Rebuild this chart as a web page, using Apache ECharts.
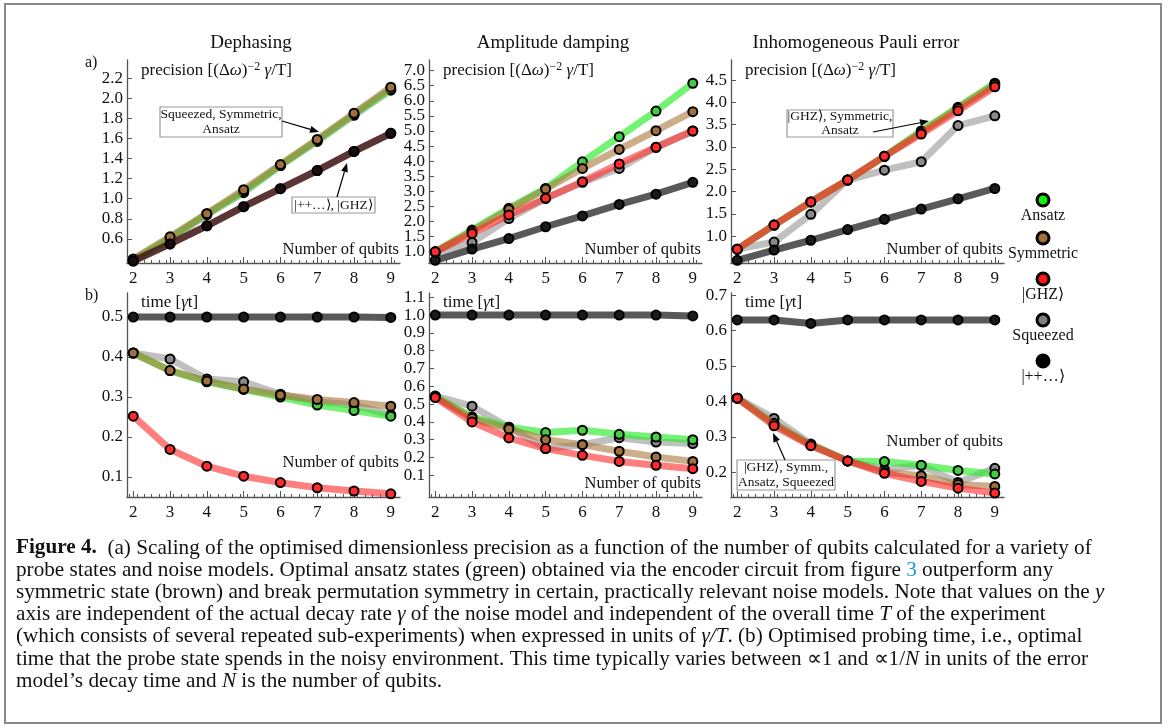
<!DOCTYPE html>
<html>
<head>
<meta charset="utf-8">
<script src="https://cdn.jsdelivr.net/npm/echarts@6/dist/echarts.min.js"></script>
<style>
  html, body { margin: 0; padding: 0; background: #fff; }
  #chart { width: 1168px; height: 728px; }
</style>
</head>
<body>
<div id="chart"></div>
<script>
const SERIF = "'Liberation Serif', 'Times New Roman', serif"

// number of qubits on every x axis
const qubits = [2, 3, 4, 5, 6, 7, 8, 9]

// (a) precision [(Δω)^-2 γ/T]
const dephPrecAnsatz = [0.39, 0.61, 0.85, 1.07, 1.33, 1.58, 1.84, 2.09]
const dephPrecSymmetric = [0.40, 0.62, 0.85, 1.09, 1.34, 1.59, 1.85, 2.11]
const dephPrecGHZ = [0.38, 0.55, 0.73, 0.92, 1.10, 1.28, 1.47, 1.65]
const dephPrecSqueezed = [0.39, 0.60, 0.84, 1.06, 1.33, 1.57, 1.83, 2.08]
const dephPrecProduct = [0.38, 0.55, 0.73, 0.92, 1.10, 1.28, 1.47, 1.65]

const ampPrecAnsatz = [1.00, 1.72, 2.44, 3.10, 3.98, 4.81, 5.66, 6.58]
const ampPrecSymmetric = [1.00, 1.68, 2.40, 3.08, 3.76, 4.39, 5.01, 5.64]
const ampPrecGHZ = [1.00, 1.61, 2.22, 2.77, 3.32, 3.91, 4.46, 5.00]
const ampPrecSqueezed = [0.98, 1.31, 2.10, 2.77, 3.30, 3.76, 4.46, 5.00]
const ampPrecProduct = [0.72, 1.09, 1.44, 1.83, 2.19, 2.57, 2.91, 3.30]

const pauliPrecAnsatz = [0.71, 1.25, 1.77, 2.26, 2.79, 3.36, 3.89, 4.43]
const pauliPrecSymmetric = [0.71, 1.25, 1.77, 2.26, 2.79, 3.33, 3.87, 4.40]
const pauliPrecGHZ = [0.71, 1.25, 1.77, 2.26, 2.79, 3.29, 3.81, 4.35]
const pauliPrecSqueezed = [0.71, 0.87, 1.49, 2.26, 2.48, 2.67, 3.48, 3.70]
const pauliPrecProduct = [0.46, 0.69, 0.91, 1.15, 1.38, 1.61, 1.84, 2.07]

// (b) time [γt]
const dephTimeAnsatz = [0.41, 0.366, 0.338, 0.319, 0.300, 0.280, 0.266, 0.252]
const dephTimeSymmetric = [0.41, 0.366, 0.340, 0.320, 0.305, 0.294, 0.286, 0.277]
const dephTimeGHZ = [0.252, 0.169, 0.127, 0.102, 0.086, 0.073, 0.065, 0.058]
const dephTimeSqueezed = [0.41, 0.395, 0.345, 0.338, 0.307, 0.288, 0.280, 0.255]
const dephTimeProduct = [0.50, 0.50, 0.50, 0.50, 0.50, 0.50, 0.50, 0.499]

const ampTimeAnsatz = [0.544, 0.428, 0.370, 0.340, 0.353, 0.330, 0.315, 0.300]
const ampTimeSymmetric = [0.540, 0.420, 0.360, 0.300, 0.272, 0.235, 0.203, 0.178]
const ampTimeGHZ = [0.537, 0.400, 0.310, 0.250, 0.212, 0.178, 0.156, 0.137]
const ampTimeSqueezed = [0.545, 0.488, 0.370, 0.250, 0.272, 0.311, 0.287, 0.278]
const ampTimeProduct = [1.00, 1.00, 1.00, 1.00, 1.00, 1.00, 1.00, 0.995]

const pauliTimeAnsatz = [0.409, 0.335, 0.277, 0.232, 0.230, 0.220, 0.205, 0.195]
const pauliTimeSymmetric = [0.409, 0.338, 0.277, 0.232, 0.200, 0.190, 0.165, 0.160]
const pauliTimeGHZ = [0.409, 0.331, 0.275, 0.232, 0.197, 0.174, 0.155, 0.141]
const pauliTimeSqueezed = [0.409, 0.352, 0.280, 0.232, 0.208, 0.219, 0.171, 0.211]
const pauliTimeProduct = [0.63, 0.63, 0.62, 0.63, 0.63, 0.63, 0.63, 0.63]

// y tick labels
const yTicksDephPrec = [0.6, 0.8, 1.0, 1.2, 1.4, 1.6, 1.8, 2.0, 2.2]
const yTicksAmpPrec = [1.0, 1.5, 2.0, 2.5, 3.0, 3.5, 4.0, 4.5, 5.0, 5.5, 6.0, 6.5, 7.0]
const yTicksPauliPrec = [1.0, 1.5, 2.0, 2.5, 3.0, 3.5, 4.0, 4.5]
const yTicksDephTime = [0.1, 0.2, 0.3, 0.4, 0.5]
const yTicksAmpTime = [0.1, 0.2, 0.3, 0.4, 0.5, 0.6, 0.7, 0.8, 0.9, 1.0, 1.1]
const yTicksPauliTime = [0.2, 0.3, 0.4, 0.5, 0.6, 0.7]

const panelTitles = ['Dephasing', 'Amplitude damping', 'Inhomogeneous Pauli error']
// drawing order, bottom to top
const stateNames = ['Squeezed', 'Ansatz', 'Symmetric', '|GHZ⟩', '|++…⟩']

const states = [
  { line: 'rgba(150,150,150,0.6)', dot: '#8a8a8a' },
  { line: 'rgba(40,235,40,0.65)', dot: '#44cc44' },
  { line: 'rgba(170,120,60,0.6)', dot: '#a0703e' },
  { line: 'rgba(255,40,40,0.6)', dot: '#ff2a2a' },
  { line: 'rgba(25,25,25,0.72)', dot: 'rgba(10,10,10,0.8)' }
]

const panels = [
  { left: 127, top: 60, height: 203, min: 0.36, max: 2.38, ticks: yTicksDephPrec,
    data: [dephPrecSqueezed, dephPrecAnsatz, dephPrecSymmetric, dephPrecGHZ, dephPrecProduct] },
  { left: 429, top: 60, height: 203, min: 0.63, max: 7.35, ticks: yTicksAmpPrec,
    data: [ampPrecSqueezed, ampPrecAnsatz, ampPrecSymmetric, ampPrecGHZ, ampPrecProduct] },
  { left: 731, top: 60, height: 203, min: 0.40, max: 4.95, ticks: yTicksPauliPrec,
    data: [pauliPrecSqueezed, pauliPrecAnsatz, pauliPrecSymmetric, pauliPrecGHZ, pauliPrecProduct] },
  { left: 127, top: 293, height: 204, min: 0.05, max: 0.56, ticks: yTicksDephTime,
    data: [dephTimeSqueezed, dephTimeAnsatz, dephTimeSymmetric, dephTimeGHZ, dephTimeProduct] },
  { left: 429, top: 293, height: 204, min: -0.022, max: 1.124, ticks: yTicksAmpTime,
    data: [ampTimeSqueezed, ampTimeAnsatz, ampTimeSymmetric, ampTimeGHZ, ampTimeProduct] },
  { left: 731, top: 293, height: 204, min: 0.13, max: 0.706, ticks: yTicksPauliTime,
    data: [pauliTimeSqueezed, pauliTimeAnsatz, pauliTimeSymmetric, pauliTimeGHZ, pauliTimeProduct] }
]

const X_MIN = 1.83
const X_MAX = 9.25
const minorTicks = []
for (let v = 1.9; v < X_MAX; v += 0.2) minorTicks.push(Math.round(v * 10) / 10)

const axisColor = '#555'

const grids = panels.map(p => ({ left: p.left, top: p.top, width: 273, height: p.height }))

const xAxes = panels.map((p, i) => ({
  gridIndex: i, type: 'value', min: X_MIN, max: X_MAX, position: 'bottom',
  axisLine: { show: true, onZero: false, lineStyle: { color: axisColor, width: 1.3 } },
  axisTick: { show: true, inside: true, length: 6, customValues: qubits, lineStyle: { color: axisColor } },
  axisLabel: { customValues: qubits, fontFamily: SERIF, fontSize: 17, color: '#111', margin: 7 },
  splitLine: { show: false }
})).concat(panels.map((p, i) => ({
  gridIndex: i, type: 'value', min: X_MIN, max: X_MAX, position: 'bottom',
  axisLine: { show: false, onZero: false },
  axisTick: { show: true, inside: true, length: 3, customValues: minorTicks, lineStyle: { color: axisColor } },
  axisLabel: { show: false },
  splitLine: { show: false }
})))

// labels are split over two overlapping axes so dense ones are never hidden
const yLabel = vals => ({ customValues: vals, fontFamily: SERIF, fontSize: 17, color: '#111', margin: 4,
  showMinLabel: true, showMaxLabel: true, formatter: v => v.toFixed(1) })

const yAxes = panels.map((p, i) => ({
  gridIndex: i, type: 'value', min: p.min, max: p.max, position: 'left',
  axisLine: { show: true, onZero: false, lineStyle: { color: axisColor, width: 1.3 } },
  axisTick: { show: true, inside: true, length: 5, customValues: p.ticks, lineStyle: { color: axisColor } },
  axisLabel: yLabel(p.ticks.filter((v, k) => k % 2 === 0)),
  splitLine: { show: false }
})).concat(panels.map((p, i) => ({
  gridIndex: i, type: 'value', min: p.min, max: p.max, position: 'left', offset: 0,
  axisLine: { show: false, onZero: false },
  axisTick: { show: false },
  axisLabel: yLabel(p.ticks.filter((v, k) => k % 2 === 1)),
  splitLine: { show: false }
})))

const series = []
panels.forEach((p, i) => {
  p.data.forEach((vals, s) => {
    series.push({
      type: 'line',
      name: stateNames[s],
      xAxisIndex: i,
      yAxisIndex: i,
      data: qubits.map((q, k) => [q, vals[k]]),
      symbol: 'circle',
      symbolSize: 9,
      showSymbol: true,
      lineStyle: { color: states[s].line, width: 7, cap: 'round', join: 'round' },
      itemStyle: { color: states[s].dot, borderColor: '#000', borderWidth: 2 },
      emphasis: { disabled: true },
      z: 2 + s
    })
  })
})

// ---- text, annotations, legend ----
const txt = (x, y, text, opts = {}) => ({
  type: 'text', x, y, z: 100,
  style: Object.assign({ text, font: `${opts.size || 16}px ${SERIF}`, fill: '#111',
    align: opts.align || 'left', verticalAlign: 'middle',
    textAlign: opts.align || 'left', textVerticalAlign: 'middle' }, opts.style || {})
})

const arrow = (x1, y1, x2, y2) => {
  const a = Math.atan2(y2 - y1, x2 - x1)
  const L = 9, W = 3.5
  const bx = x2 - L * Math.cos(a), by = y2 - L * Math.sin(a)
  return [
    { type: 'line', z: 101, shape: { x1, y1, x2: bx, y2: by }, style: { stroke: '#000', lineWidth: 1.2 } },
    { type: 'polygon', z: 101, shape: { points: [[x2, y2], [bx + W * Math.sin(a), by - W * Math.cos(a)], [bx - W * Math.sin(a), by + W * Math.cos(a)]] },
      style: { fill: '#000' } }
  ]
}

const box = (x, y, w, h, lines) => {
  const els = [{ type: 'rect', z: 99, shape: { x, y, width: w, height: h }, style: { fill: '#fff', stroke: '#999', lineWidth: 1.2 } }]
  const step = h / lines.length
  lines.forEach((l, k) => els.push(txt(x + w / 2, y + step * (k + 0.5), l, { size: 13.5, align: 'center' })))
  return els
}

const precRich = {
  n: { fontFamily: SERIF, fontSize: 17, fill: '#111' },
  i: { fontFamily: SERIF, fontSize: 17, fontStyle: 'italic', fill: '#111' },
  sup: { fontFamily: SERIF, fontSize: 12, fill: '#111', padding: [0, 0, 9, 0] }
}
const precText = '{n|precision [(Δ}{i|ω}{n|)}{sup|−2}{n| }{i|γ}{n|/T]}'
const timeText = '{n|time [}{i|γ}{n|t]}'

const graphics = [
  { type: 'rect', z: 0, shape: { x: 5, y: 4, width: 1156, height: 719 }, style: { fill: 'none', stroke: '#888', lineWidth: 2 } },
  txt(251, 43, panelTitles[0], { size: 19, align: 'center' }),
  txt(553, 43, panelTitles[1], { size: 19, align: 'center' }),
  txt(856, 43, panelTitles[2], { size: 19, align: 'center' }),
  txt(85, 63, 'a)', { size: 16 }),
  txt(85, 296, 'b)', { size: 16 })
]
;[141, 443, 745].forEach(x => {
  graphics.push(txt(x, 71, precText, { style: { rich: precRich } }))
  graphics.push(txt(x, 303, timeText, { style: { rich: precRich } }))
})
;[[399, 250], [701, 250], [1003, 250], [399, 463], [701, 484], [1003, 442]].forEach(([x, y]) => {
  graphics.push(txt(x, y, 'Number of qubits', { size: 16.5, align: 'right' }))
})

graphics.push(...box(160, 107, 122, 30, ['Squeezed, Symmetric,', 'Ansatz']))
graphics.push(...arrow(282, 121, 319, 132))
graphics.push(...box(292, 197, 83, 16, ['|++…⟩, |GHZ⟩']))
graphics.push(...arrow(337, 197, 347, 163))
graphics.push(...box(787, 110, 106, 27, ['|GHZ⟩, Symmetric,', 'Ansatz']))
graphics.push(...arrow(873, 132, 929, 121))
graphics.push(...box(737, 460, 98, 30, ['|GHZ⟩, Symm.,', 'Ansatz, Squeezed']))
graphics.push(...arrow(785, 460, 773, 433))

// legend (right side)
const legendItems = [
  { name: 'Ansatz', fill: '#11ee11', y: 200 },
  { name: 'Symmetric', fill: '#a0703e', y: 238 },
  { name: '|GHZ⟩', fill: '#ff1a1a', y: 279 },
  { name: 'Squeezed', fill: '#808080', y: 320 },
  { name: '|++…⟩', fill: '#000', y: 361 }
]
legendItems.forEach(it => {
  graphics.push({ type: 'circle', z: 100, shape: { cx: 1043, cy: it.y, r: 6 }, style: { fill: it.fill, stroke: '#000', lineWidth: 3 } })
  graphics.push(txt(1043, it.y + 16, it.name, { size: 16, align: 'center' }))
})

// caption
const CAP = 21.2
const capRich = {
  b: { fontFamily: SERIF, fontSize: CAP, fontWeight: 'bold', fill: '#111' },
  i: { fontFamily: SERIF, fontSize: CAP, fontStyle: 'italic', fill: '#111' },
  l: { fontFamily: SERIF, fontSize: CAP, fill: '#1a9bd7' },
  n: { fontFamily: SERIF, fontSize: CAP, fill: '#111' }
}
const captionLines = [
  '{b|Figure 4.}{n|  (a) Scaling of the optimised dimensionless precision as a function of the number of qubits calculated for a variety of}',
  '{n|probe states and noise models. Optimal ansatz states (green) obtained via the encoder circuit from figure }{l|3}{n| outperform any}',
  '{n|symmetric state (brown) and break permutation symmetry in certain, practically relevant noise models. Note that values on the }{i|y}',
  '{n|axis are independent of the actual decay rate }{i|γ}{n| of the noise model and independent of the overall time }{i|T}{n| of the experiment}',
  '{n|(which consists of several repeated sub-experiments) when expressed in units of }{i|γ/T}{n|. (b) Optimised probing time, i.e., optimal}',
  '{n|time that the probe state spends in the noisy environment. This time typically varies between ∝1 and ∝1/}{i|N}{n| in units of the error}',
  '{n|model’s decay time and }{i|N}{n| is the number of qubits.}'
]
captionLines.forEach((l, k) => {
  graphics.push(txt(16, 548 + k * 22.2, l, { size: CAP, style: { rich: capRich } }))
})

const chart = echarts.init(document.getElementById('chart'))
chart.setOption({
  animation: false,
  backgroundColor: '#fff',
  grid: grids,
  xAxis: xAxes,
  yAxis: yAxes,
  series: series,
  graphic: { elements: graphics }
})
</script>
</body>
</html>
